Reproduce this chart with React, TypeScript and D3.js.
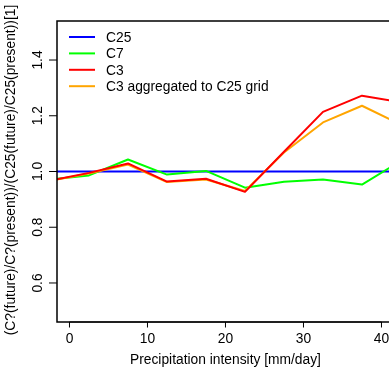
import { useEffect, useRef } from "react";
import * as d3 from "d3";

// bin centres in mm/day
const binCentres = [-2.5, 2.5, 7.5, 12.5, 17.5, 22.5, 27.5, 32.5, 37.5, 42.5];
const c25 = [1, 1, 1, 1, 1, 1, 1, 1, 1, 1];
const c7 = [0.971, 0.986, 1.043, 0.989, 1.002, 0.942, 0.963, 0.971, 0.953, 1.038];
const c3 = [0.967, 0.995, 1.029, 0.964, 0.974, 0.927, 1.071, 1.214, 1.272, 1.248];
const c3agg = [0.967, 0.993, 1.025, 0.962, 0.971, 0.93, 1.068, 1.176, 1.236, 1.168];

const xTicks = [0, 10, 20, 30, 40];
const yTicks = [0.6, 0.8, 1.0, 1.2, 1.4];

const seriesNames = ["C25", "C7", "C3", "C3 aggregated to C25 grid"];
const seriesColors = ["#0000ff", "#00ff00", "#ff0000", "#ffa500"];
const seriesValues = [c25, c7, c3, c3agg];
const drawOrder = [0, 1, 3, 2];

export default function App() {
  const ref = useRef<SVGSVGElement>(null);

  useEffect(() => {
    const width = 389;
    const height = 368;
    const svg = d3.select(ref.current).attr("width", width).attr("height", height);
    svg.selectAll("*").remove();

    const font = "Liberation Sans, Arial, Helvetica, sans-serif";
    const fs = 13.8;
    const left = 57, top = 21, bottom = 322;

    // R style: xlim c(0,40), ylim c(0.5,1.5), 4% extension
    const x = d3.scaleLinear().domain([-1.6, 41.6]).range([left, left + 43.2 * 7.8]);
    const y = d3.scaleLinear().domain([0.46, 1.54]).range([bottom, top]);

    svg.append("defs").append("clipPath").attr("id", "plotclip")
      .append("rect")
      .attr("x", x(-1.6)).attr("y", y(1.54))
      .attr("width", x(41.6) - x(-1.6)).attr("height", y(0.46) - y(1.54));

    const line = d3.line<number>()
      .x((_, i) => x(binCentres[i]))
      .y(d => y(d));

    const g = svg.append("g").attr("clip-path", "url(#plotclip)");
    drawOrder.forEach(k => {
      g.append("path")
        .attr("d", line(seriesValues[k]))
        .attr("fill", "none")
        .attr("stroke", seriesColors[k])
        .attr("stroke-width", 2)
        .attr("stroke-linejoin", "round");
    });

    // box
    svg.append("rect")
      .attr("x", x(-1.6)).attr("y", y(1.54))
      .attr("width", x(41.6) - x(-1.6)).attr("height", y(0.46) - y(1.54))
      .attr("fill", "none").attr("stroke", "#000").attr("stroke-width", 1.5);

    // x axis
    const xa = svg.append("g");
    xa.append("line")
      .attr("x1", x(0)).attr("x2", x(40)).attr("y1", bottom).attr("y2", bottom)
      .attr("stroke", "#000");
    xTicks.forEach(t => {
      xa.append("line")
        .attr("x1", x(t)).attr("x2", x(t)).attr("y1", bottom).attr("y2", bottom + 5.5)
        .attr("stroke", "#000");
      xa.append("text")
        .attr("x", x(t)).attr("y", bottom + 20.7)
        .attr("text-anchor", "middle")
        .attr("font-family", font).attr("font-size", fs)
        .text(t);
    });

    // y axis
    yTicks.forEach(t => {
      svg.append("line")
        .attr("x1", left - 8).attr("x2", left).attr("y1", y(t)).attr("y2", y(t))
        .attr("stroke", "#000");
      svg.append("text")
        .attr("transform", `translate(41.7,${y(t)}) rotate(-90)`)
        .attr("text-anchor", "middle")
        .attr("font-family", font).attr("font-size", fs)
        .text(t.toFixed(1));
    });

    svg.append("text")
      .attr("x", x(20)).attr("y", bottom + 42.3)
      .attr("text-anchor", "middle")
      .attr("font-family", font).attr("font-size", fs)
      .text("Precipitation intensity [mm/day]");

    svg.append("text")
      .attr("transform", "translate(15,170) rotate(-90)")
      .attr("text-anchor", "middle")
      .attr("font-family", font).attr("font-size", fs)
      .text("(C?(future)/C?(present))/(C25(future)/C25(present))[1]");

    // legend
    const legend = svg.selectAll(".legend")
      .data(seriesNames)
      .enter()
      .append("g")
      .attr("transform", (_, i) => `translate(69,${37 + i * 16.4})`);
    legend.append("line")
      .attr("x1", 0).attr("x2", 26).attr("y1", 0).attr("y2", 0)
      .attr("stroke", (_, i) => seriesColors[i]).attr("stroke-width", 2);
    legend.append("text")
      .attr("x", 37).attr("y", 5)
      .attr("font-family", font).attr("font-size", fs)
      .text(d => d);
  }, []);

  return <svg ref={ref} style={{ position: "fixed", top: 0, left: 0, display: "block" }} />;
}
